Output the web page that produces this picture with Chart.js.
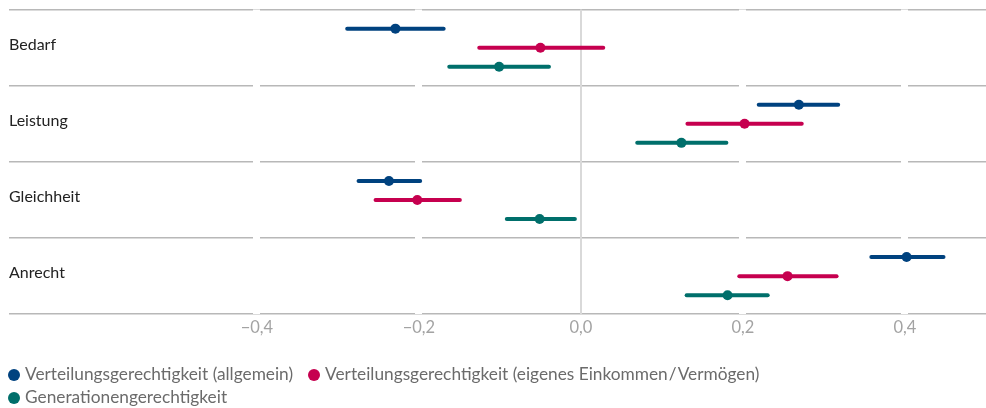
<!DOCTYPE html>
<html><head><meta charset="utf-8">
<script src="https://cdn.jsdelivr.net/npm/chart.js@4/dist/chart.umd.min.js"></script>
<style>
html,body{margin:0;padding:0;background:#fff;}
#wrap{position:relative;width:986px;height:408px;font-family:Lato,"Open Sans",sans-serif;}
#c{position:absolute;left:0;top:0;}
#legend{position:absolute;left:8px;top:362px;width:975px;font-size:17.3px;color:#6b6b6b;line-height:23px;}
#legend span.item{display:inline-block;margin-right:15px;white-space:nowrap;}
#legend i{display:inline-block;width:12px;height:12px;border-radius:50%;margin-right:5px;vertical-align:-1px;}
</style></head>
<body><div id="wrap"><canvas id="c" width="986" height="408"></canvas><div id="legend"></div></div>
<script>
const categories = ["Bedarf", "Leistung", "Gleichheit", "Anrecht"];
const seriesNames = ["Verteilungsgerechtigkeit (allgemein)", "Verteilungsgerechtigkeit (eigenes Einkommen\u200a/\u200aVermögen)", "Generationengerechtigkeit"];
const seriesColors = ["#00427f", "#c6004f", "#006f6b"];
// point estimates
const meanAllgemein = [-0.229, 0.269, -0.237, 0.402];
const meanEigenes   = [-0.050, 0.202, -0.202, 0.255];
const meanGeneration= [-0.101, 0.124, -0.051, 0.181];
// interval lower / upper bounds
const lowAllgemein  = [-0.291, 0.217, -0.277, 0.356];
const highAllgemein = [-0.167, 0.320, -0.196, 0.450];
const lowEigenes    = [-0.128, 0.129, -0.256, 0.193];
const highEigenes   = [ 0.030, 0.275, -0.147, 0.318];
const lowGeneration = [-0.165, 0.067, -0.094, 0.128];
const highGeneration= [-0.037, 0.182, -0.005, 0.233];
const tickValues = [-0.4, -0.2, 0, 0.2, 0.4];

const means = [meanAllgemein, meanEigenes, meanGeneration];
const lows = [lowAllgemein, lowEigenes, lowGeneration];
const highs = [highAllgemein, highEigenes, highGeneration];

const datasets = seriesNames.map((name, s) => ({
  label: name,
  data: categories.map((c, i) => [lows[s][i], highs[s][i]]),
  means: means[s],
  backgroundColor: seriesColors[s],
  borderWidth: 0,
  borderRadius: 2,
  borderSkipped: false,
  maxBarThickness: 4,
  categoryPercentage: 0.75,
  barPercentage: 1
}));

const dotPlugin = {
  id: 'dots',
  afterDatasetsDraw(chart) {
    const ctx = chart.ctx;
    const xs = chart.scales.x;
    chart.data.datasets.forEach((ds, di) => {
      const meta = chart.getDatasetMeta(di);
      meta.data.forEach((bar, i) => {
        ctx.beginPath();
        ctx.fillStyle = ds.backgroundColor;
        ctx.arc(xs.getPixelForValue(ds.means[i]), bar.y, 5, 0, Math.PI * 2);
        ctx.fill();
      });
    });
  }
};

new Chart(document.getElementById('c'), {
  type: 'bar',
  data: { labels: categories, datasets },
  plugins: [dotPlugin],
  options: {
    indexAxis: 'y',
    responsive: false,
    animation: false,
    layout: { padding: { top: 9, left: 9, right: 0, bottom: 66 } },
    plugins: { legend: { display: false }, tooltip: { enabled: false } },
    scales: {
      x: {
        min: -0.706, max: 0.5,
        afterBuildTicks: (scale) => { scale.ticks = tickValues.map(v => ({ value: v })); },
        border: { display: false },
        grid: {
          z: -1,
          drawTicks: false,
          color: (c) => (c.tick && Math.abs(c.tick.value) < 1e-9) ? '#d9d9d9' : '#ffffff',
          lineWidth: (c) => (c.tick && Math.abs(c.tick.value) < 1e-9) ? 2 : 7
        },
        ticks: {
          padding: 4,
          color: '#a3a3a3',
          font: { family: 'Lato', size: 16.5 },
          callback: (v) => Number(v).toFixed(1).replace('.', ',').replace('-', '\u2212')
        }
      },
      y: {
        offset: true,
        border: { display: false },
        grid: { z: -2, offset: true, drawTicks: false, color: '#b8b8b8', lineWidth: 1.5 },
        ticks: {
          mirror: true,
          padding: 0,
          labelOffset: -3,
          color: '#222222',
          font: { family: 'Lato', size: 16 }
        }
      }
    }
  }
});

const lg = document.getElementById('legend');
seriesNames.forEach((n, s) => {
  const it = document.createElement('span');
  it.className = 'item';
  const dot = document.createElement('i');
  dot.style.background = seriesColors[s];
  it.appendChild(dot);
  it.appendChild(document.createTextNode(n));
  lg.appendChild(it);
  if (s === 1) lg.appendChild(document.createElement('br'));
});
</script></body></html>
